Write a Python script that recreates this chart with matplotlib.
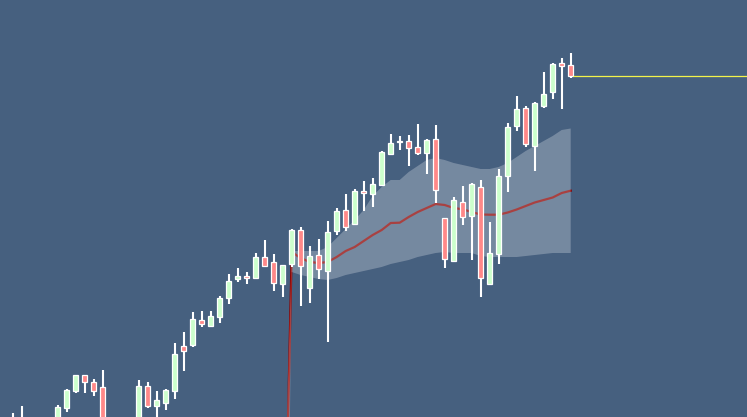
import numpy as np
import matplotlib.pyplot as plt

# ohlc per candle (index 0..62), price units
opens = [-20, -3, -30, -18, -26, -4, 8.7, 26.3, 42, 34.7, 30, -18, -8, -22, -6, 31, 11.3, 14.3, 26.3, 71,
         72, 97, 90.7, 100.3, 119.3, 138.3, 140.7, 139.3, 160, 154.7, 133.5, 152.7, 186.7, 129.3, 161.7, 145.7, 186.3, 207, 192.7, 226,
         223, 232.3, 263.3, 275, 276, 269.7, 264.5, 277.8, 198.7, 156.5, 214.7, 200.7, 229.7, 132.7, 162.7, 240.7, 291.5, 308.7, 271.3, 311.3,
         324.7, 353.7, 352]
highs = [4, 11, -12, -14, -2, 12, 28, 42, 42, 38, 47, -4, -3, -1, 37, 35, 26, 28, 74, 85,
         105, 106, 106, 121, 143, 149, 144.7, 164, 177, 163, 152, 188, 189.7, 171, 178, 196, 208.7, 223, 228, 236,
         239.3, 266, 283, 281, 282, 293, 278, 292, 198.7, 219.7, 231, 233.7, 237, 195, 248, 293.7, 321, 311, 314.7, 345,
         354, 359, 364]
lows = [-25, -22, -35, -34, -30, -10, 5.3, 24.3, 23.7, 21.3, -20, -22, -26, -25, -10, 9.3, 0, 7, 18.3, 46.3,
        70.3, 90.3, 90.7, 94.3, 113.3, 135.3, 133.3, 139.3, 151.3, 126.3, 120.3, 150.3, 111.3, 114.3, 138.3, 75.3, 182, 186.3, 192.7, 206.3,
        210, 232.3, 263.3, 267, 251.3, 262.3, 243.5, 214, 148.7, 156.5, 192.3, 157.3, 119.7, 132.7, 152.7, 225.3, 286.3, 270.3, 246.3, 309.3,
        318, 308, 339.3]
closes = [-5, -15, -18, -28, -6, 10, 27, 42, 35.3, 26.3, -15, -8, -20, -4, 31, 11.3, 17, 27, 63, 66.3,
          98, 92.7, 101, 119, 136, 141, 138.7, 160, 151.3, 133.7, 152, 187, 151, 161, 147.7, 184.7, 206, 189.7, 226, 224,
          233, 265, 274, 276, 268.7, 264.3, 277, 227.5, 157.7, 217, 199.7, 233, 138.7, 163.7, 240.7, 289.7, 307.7, 272.7, 313.7, 322.7,
          353, 350.7, 341.3]

# moving average and band, starting at index 30
ma_start = 30
ma = [-247, 165, 159, 155, 154, 155, 160, 166, 170, 176, 182, 187, 194, 194.3, 200, 205, 209, 213, 212, 209,
      207.7, 205, 202.5, 202.3, 202.3, 204.5, 207.5, 211, 214.5, 217, 219.5, 224, 226.3]
band_up = [-154, 166, 166, 166, 166, 170, 179, 188, 197, 207, 221, 230, 237, 237, 245, 251, 257, 259, 257, 254,
           252, 250, 248, 248, 250, 254, 260, 266, 271, 276, 281, 287, 288.5]
band_lo = [-600, 145, 142, 140, 138, 137, 139, 142, 144, 146, 148, 150, 153, 155, 157, 160, 162, 164, 165, 164,
           164, 164, 161, 160, 160, 160, 160, 161, 162, 163, 164, 164, 164]

bg = '#46607f'
up_col = '#ccffcc'
down_col = '#ff8888'

fig = plt.figure(figsize=(7.47, 4.17), dpi=100, facecolor=bg)
ax = fig.add_axes([0, 0, 1, 1])
ax.set_facecolor(bg)

x = np.arange(len(opens))
o = np.array(opens)
c = np.array(closes)

mx = np.arange(ma_start, ma_start + len(ma))
ax.plot(mx, ma, color='#8b0000', lw=1.6, zorder=1)
ax.fill_between(mx, band_lo, band_up, color='white', alpha=0.26, lw=0, zorder=2)

# wicks
ax.vlines(x, lows, highs, color='white', lw=1.5, zorder=3)
# bodies
bottoms = np.minimum(o, c)
heights = np.maximum(np.abs(c - o), 1.0)
cols = [up_col if cc >= oo else down_col for oo, cc in zip(o, c)]
ax.bar(x, heights, bottom=bottoms, width=0.62, color=cols, edgecolor='white', lw=0.9, zorder=4)

# last price line
ax.hlines(closes[-1], x[-1] + 0.25, 90, color='#f4f44a', lw=0.9, zorder=5)

ax.set_xlim(-1.41, 81.59)
ax.set_ylim(0, 417)
ax.axis('off')

plt.savefig('out.png', dpi=100, facecolor=bg)
